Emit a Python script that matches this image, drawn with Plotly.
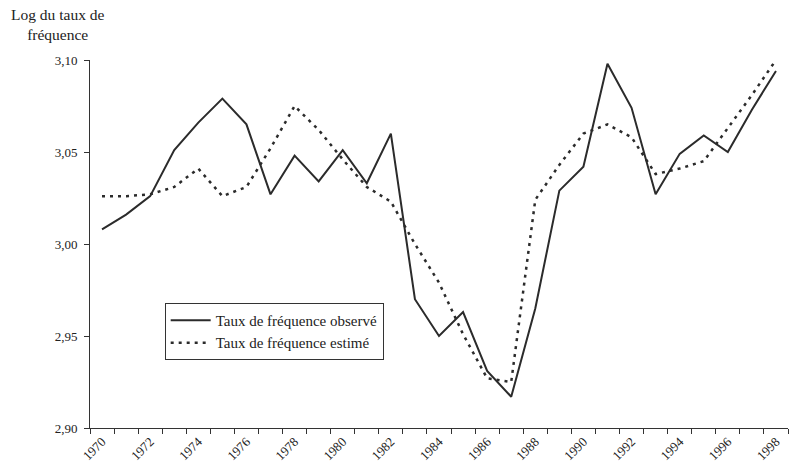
import plotly.graph_objects as go

# Années et séries (log du taux de fréquence)
years = list(range(1970, 1999))
observed = [3.008, 3.016, 3.026, 3.051, 3.066, 3.079, 3.065, 3.027, 3.048, 3.034,
            3.051, 3.033, 3.060, 2.970, 2.950, 2.963, 2.931, 2.917, 2.965, 3.029,
            3.042, 3.098, 3.074, 3.027, 3.049, 3.059, 3.050, 3.073, 3.094]
estimated = [3.026, 3.026, 3.027, 3.031, 3.041, 3.026, 3.031, 3.052, 3.075, 3.062,
             3.046, 3.031, 3.023, 3.000, 2.979, 2.951, 2.927, 2.925, 3.024, 3.043,
             3.060, 3.065, 3.058, 3.038, 3.041, 3.045, 3.063, 3.081, 3.100]
y_ticks = [2.90, 2.95, 3.00, 3.05, 3.10]
x_labels = [y for y in years if y % 2 == 0]

serif = "Liberation Serif"

fig = go.Figure()

fig.add_trace(go.Scatter(
    x=years, y=observed,
    mode='lines',
    line=dict(color='#2b2b2b', width=2),
    name='Taux de fréquence observé'
))

fig.add_trace(go.Scatter(
    x=years, y=estimated,
    mode='lines',
    line=dict(color='#2b2b2b', width=2.5, dash='3px,5px'),
    name='Taux de fréquence estimé'
))

fig.add_annotation(
    text='Log du taux de<br>fréquence',
    xref='paper', yref='paper', x=-0.046, y=1.04,
    xanchor='center', yanchor='bottom', showarrow=False,
    align='center', font=dict(family=serif, size=15.5, color='#222')
)

fig.update_layout(
    width=802, height=470,
    separators=', ',
    paper_bgcolor='white', plot_bgcolor='white',
    font=dict(family=serif, size=13, color='#222'),
    margin=dict(l=90, r=14, t=60, b=42),
    showlegend=True,
    legend=dict(
        x=0.107, y=0.34, xanchor='left', yanchor='top',
        bordercolor='#333', borderwidth=1, bgcolor='white',
        font=dict(family=serif, size=15, color='#222'), itemwidth=40,
        tracegroupgap=2
    ),
    xaxis=dict(
        range=[1969.5, 1998.5], automargin=False,
        tickvals=x_labels, ticktext=[str(v) for v in x_labels],
        tickangle=-45, ticks='', showgrid=False, zeroline=False,
        showline=True, linecolor='#333', linewidth=1,
        minor=dict(tick0=1969.5, dtick=1, ticks='outside', ticklen=5,
                   tickcolor='#333', showgrid=False),
        tickfont=dict(family=serif, size=13)
    ),
    yaxis=dict(
        range=[2.90, 3.10], automargin=False,
        tickvals=y_ticks, tickformat='.2f',
        ticks='outside', ticklen=5, tickcolor='#333',
        ticklabelstandoff=4,
        showgrid=False, zeroline=False,
        showline=True, linecolor='#333', linewidth=1,
        tickfont=dict(family=serif, size=13)
    )
)

fig.write_html("out.html", config={'displayModeBar': False},
               post_script="document.body.style.margin='0';")
